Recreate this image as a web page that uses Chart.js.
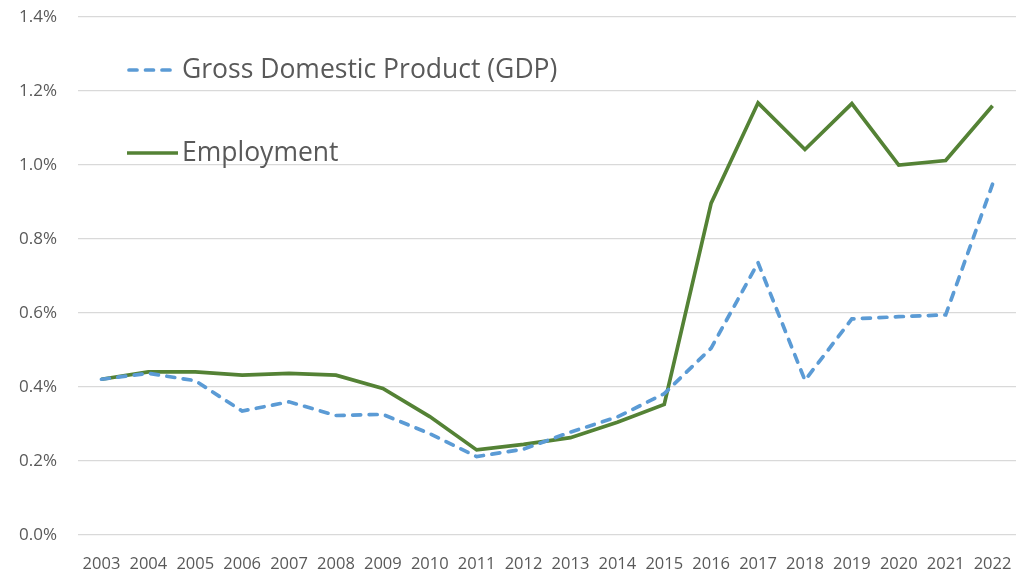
<!DOCTYPE html>
<html>
<head>
<meta charset="utf-8">
<script src="https://cdn.jsdelivr.net/npm/chart.js@4.4.1/dist/chart.umd.min.js"></script>
<style>
  html, body { margin: 0; padding: 0; background: #fff; }
  #wrap { width: 1023px; height: 571px; }
</style>
</head>
<body>
<div id="wrap"><canvas id="myChart" width="1023" height="571"></canvas></div>
<script>
const years = ['2003', '2004', '2005', '2006', '2007', '2008', '2009', '2010', '2011', '2012',
    '2013', '2014', '2015', '2016', '2017', '2018', '2019', '2020', '2021', '2022'];

// shares in percent
const gdp = [0.421, 0.437, 0.417, 0.335, 0.360, 0.323, 0.326, 0.274, 0.212, 0.232,
    0.278, 0.319, 0.382, 0.505, 0.736, 0.418, 0.584, 0.590, 0.595, 0.948];
const employment = [0.421, 0.441, 0.441, 0.432, 0.437, 0.432, 0.396, 0.320, 0.230, 0.245,
    0.263, 0.305, 0.353, 0.897, 1.168, 1.042, 1.166, 1.000, 1.012, 1.160];

const textColor = '#595959';
const fontFamily = "'Open Sans', sans-serif";

// legend drawn inside the plot area, like the original
const insideLegend = {
    id: 'insideLegend',
    afterDatasetsDraw(chart) {
        const ctx = chart.ctx;
        const area = chart.chartArea;
        const rows = [53, 136];
        chart.data.datasets.forEach(function(ds, i) {
            const y = area.top + rows[i];
            const x0 = area.left + 49;
            ctx.save();
            ctx.strokeStyle = ds.borderColor;
            ctx.lineWidth = ds.borderWidth;
            ctx.lineCap = ds.borderCapStyle || 'butt';
            ctx.setLineDash(ds.borderDash || []);
            ctx.beginPath();
            if (ds.borderDash) {
                ctx.moveTo(x0 + 2, y);
                ctx.lineTo(x0 + 45, y);
            } else {
                ctx.moveTo(x0, y);
                ctx.lineTo(x0 + 51, y);
            }
            ctx.stroke();
            ctx.setLineDash([]);
            ctx.fillStyle = textColor;
            ctx.font = '26.5px ' + fontFamily;
            ctx.textBaseline = 'middle';
            ctx.fillText(ds.label, x0 + 55, y);
            ctx.restore();
        });
    }
};

const config = {
    type: 'line',
    data: {
        labels: years,
        datasets: [{
            label: 'Gross Domestic Product (GDP)',
            data: gdp,
            borderColor: '#5b9bd5',
            borderWidth: 3.7,
            borderDash: [8, 8.5],
            borderCapStyle: 'round',
            pointRadius: 0,
            tension: 0,
            fill: false
        }, {
            label: 'Employment',
            data: employment,
            borderColor: '#548235',
            borderWidth: 3.7,
            pointRadius: 0,
            tension: 0,
            fill: false
        }]
    },
    options: {
        responsive: false,
        animation: false,
        layout: {
            padding: { top: 17, right: 7, left: 0, bottom: 0 }
        },
        plugins: {
            legend: { display: false },
            tooltip: { enabled: false }
        },
        scales: {
            x: {
                offset: true,
                grid: { display: false },
                border: { display: false },
                ticks: {
                    color: textColor,
                    font: { family: fontFamily, size: 16.5 },
                    padding: 11,
                    maxRotation: 0,
                    autoSkip: false
                },
                afterFit: function(scale) { scale.height = 36; }
            },
            y: {
                min: 0,
                max: 1.4,
                grid: { color: '#d9d9d9', lineWidth: 1.3, drawTicks: false },
                border: { display: false },
                ticks: {
                    stepSize: 0.2,
                    color: textColor,
                    font: { family: fontFamily, size: 17 },
                    padding: 21,
                    callback: function(v) { return v.toFixed(1) + '%'; }
                },
                afterFit: function(scale) {
                    scale.width = 78;
                    scale.paddingTop = 0;
                    scale.paddingBottom = 0;
                }
            }
        }
    },
    plugins: [insideLegend]
};

new Chart(document.getElementById('myChart'), config);
</script>
</body>
</html>
